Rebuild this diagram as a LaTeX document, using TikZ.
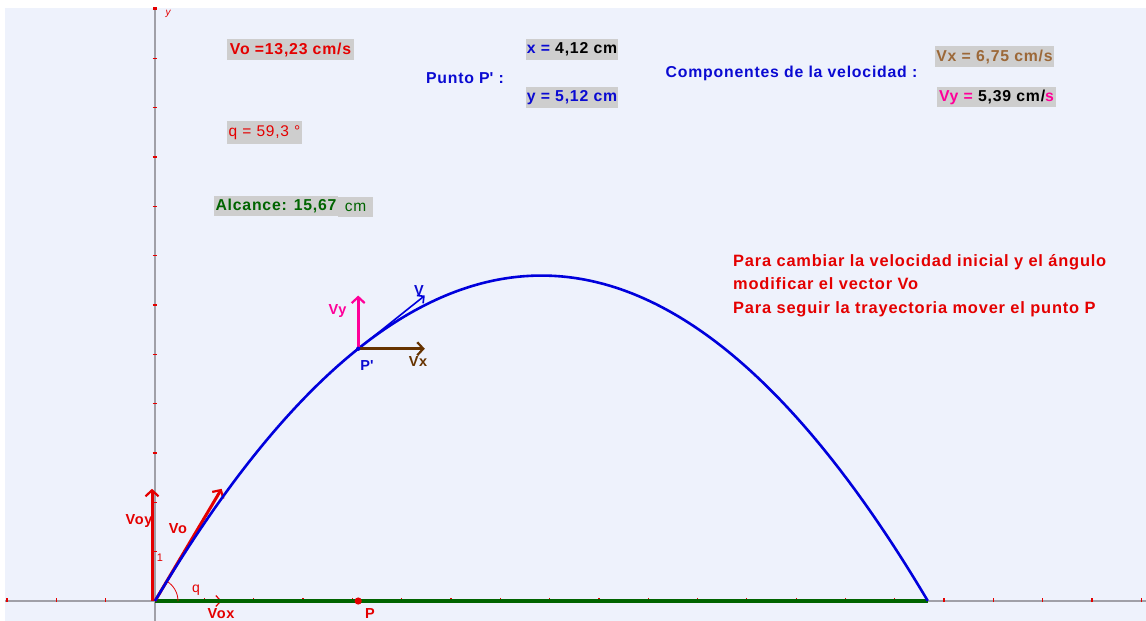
\documentclass[tikz,border=0pt]{standalone}
\usepackage{fontspec}
\setmainfont{Liberation Sans}[LetterSpace=5]
\usetikzlibrary{arrows.meta,calc}
\definecolor{bgc}{RGB}{238,242,252}
\definecolor{boxc}{RGB}{206,206,206}
\definecolor{rd}{RGB}{228,0,0}
\definecolor{bl}{RGB}{10,10,210}
\definecolor{trc}{RGB}{0,0,220}
\definecolor{gr}{RGB}{0,100,0}
\definecolor{brl}{RGB}{156,104,56}
\definecolor{brd}{RGB}{102,51,0}
\definecolor{pk}{RGB}{255,0,153}
\definecolor{axc}{RGB}{160,160,168}
\tikzset{
  tbox/.style={fill=boxc, inner sep=0pt, font=\fontsize{15.8}{18}\selectfont\bfseries},
  lbl/.style={inner sep=0pt, font=\fontsize{15.8}{18}\selectfont\bfseries},
  glbl/.style={inner sep=0pt, font=\fontsize{14.5}{17}\selectfont\bfseries},
  slbl/.style={inner sep=0pt, font=\fontsize{14}{16}\selectfont},
  vec/.style={line width=3pt, -{Straight Barb[length=6pt,width=13pt,line width=2.2pt]}},
  thinvec/.style={line width=1.6pt, -{Straight Barb[length=5pt,width=10pt,line width=1.6pt]}},
  axisline/.style={axc, line width=1.6pt},
  tickmark/.style={rd, line width=1.3pt},
  traj/.style={trc, line width=2.6pt},
}
\begin{document}
\begin{tikzpicture}[x=1pt,y=-1pt]
\useasboundingbox (0,0) rectangle (1146,621);
\fill[white] (0,0) rectangle (1146,621);
\fill[bgc] (5,8) rectangle (1146,621);
% axes
\coordinate (XL) at (5,601);
\coordinate (XR) at (1146,601);
\coordinate (YT) at (155,8);
\coordinate (YB) at (155,621);
\draw[axisline] (XL) -- (XR);
\draw[axisline] (YT) -- (YB);
\node[text=rd, inner sep=0pt, font=\fontsize{10}{12}\selectfont\itshape] (ylab) at (168,14) {y};
\begin{scope}[shift={(155,601)}, x=49.32pt, y=49.32pt]
  \foreach \k in {-3,...,-1,1,2,...,20} {\draw[tickmark] (\k,0) ++(0,-1pt) -- ++(0,4.5pt);}
  \foreach \k in {1,...,12} {\draw[tickmark] (0,\k) ++(-2.4pt,0) -- ++(4.8pt,0);}
  \coordinate (O) at (0,0);
  \coordinate (R) at (15.67,0);
  \coordinate (VoE) at ({0.2*13.23*cos(59.3)},{0.2*13.23*sin(59.3)});
  \coordinate (VoxE) at ({0.2*13.23*cos(59.3)},0);
  \coordinate (VoyS) at ([xshift=-3pt]O);
  \coordinate (VoyE) at ([xshift=-3pt]0,{0.2*13.23*sin(59.3)});
  \coordinate (Pp) at (4.12,{4.12*tan(59.3)*(1-4.12/15.67)});
  \coordinate (Pd) at (4.12,0);
  \coordinate (VxE) at ($(Pp)+(1.35,0)$);
  \coordinate (VyE) at ($(Pp)+(0,1.078)$);
  \coordinate (VE) at ($(Pp)+(1.35,1.078)$);
  % Vox under green line
  \draw[rd, line width=1.2pt, -{Straight Barb[length=5pt,width=11pt,line width=1.2pt]}] (O) -- (VoxE);
  \draw[gr, line width=3.4pt] (O) -- (R);
  \draw[rd, vec] (VoyS) -- (VoyE);
  \draw[rd, vec] (O) -- (VoE);
  \draw[rd, line width=0.8pt] ([shift={(0:23pt)}]O) arc[start angle=0, end angle=59.3, radius=23pt];
  \draw[traj] plot[domain=0:15.67, samples=160, smooth] (\x,{\x*tan(59.3)*(1-\x/15.67)});
  \draw[trc, thinvec] (Pp) -- (VE);
  \draw[brd, vec] (Pp) -- (VxE);
  \draw[pk, vec] (Pp) -- (VyE);
  \fill[trc] (Pp) circle[radius=2.2pt];
  \fill[rd] (Pd) circle[radius=3.6pt];
\end{scope}
% graph labels
\node[glbl, text=pk] (lvy) at (337.5,311) {Vy};
\node[glbl, text=bl] (lpp) at (367,366) {P\textquotesingle};
\node[glbl, text=brd] (lvx) at (418,361.5) {Vx};
\node[glbl, text=bl] (lv) at (419,291) {V};
\node[glbl, text=rd] (lvoy) at (139,521) {Voy};
\node[glbl, text=rd] (lvo) at (178,529) {Vo};
\node[inner sep=0pt, text=rd, font=\fontsize{11}{13}\selectfont] (lone) at (160,558) {1};
\node[slbl, text=rd] (lq) at (196,590) {q};
\node[glbl, text=rd, anchor=north] (lvox) at (221,608.5) {Vox};
\node[glbl, text=rd, anchor=north] (lp) at (370,608.5) {P};
% boxes
\node[tbox, minimum width=127pt, minimum height=21pt, text=rd] (bvo) at (290.5,49.5) {Vo =13,23 cm/s};
\node[tbox, minimum width=75pt, minimum height=23pt, text=rd, font=\fontsize{15.5}{18}\selectfont] (bq) at (264.5,132.5) {\raisebox{-3pt}{q = 59,3 °}};
\node[tbox, minimum width=124pt, minimum height=20pt, text=gr] (bal) at (276,205.5) {Alcance: 15,67};
\node[tbox, minimum width=35pt, minimum height=20pt, text=gr, font=\fontsize{15.5}{18}\selectfont] (bcm) at (355.5,207) {cm};
\node[tbox, minimum width=92pt, minimum height=21pt] (bx) at (572,49.5) {\textcolor{bl}{x =} \textcolor{black}{4,12 cm}};
\node[lbl, text=bl] (punto) at (465,78) {Punto P\textquotesingle\ :};
\node[tbox, minimum width=92pt, minimum height=21pt, text=bl] (by) at (572,97.5) {y = 5,12 cm};
\node[lbl, text=bl] (comp) at (791.5,73) {Componentes de la velocidad :};
\node[tbox, minimum width=119pt, minimum height=21pt, text=brl] (bvx) at (994.5,56.5) {Vx = 6,75 cm/s};
\node[tbox, minimum width=119pt, minimum height=20pt] (bvy) at (996.5,97) {\textcolor{pk}{Vy =} \textcolor{black}{5,39 cm/}\textcolor{pk}{s}};
\node[lbl, text=rd, anchor=west, align=left, font=\fontsize{16.4}{23.5}\selectfont\bfseries] (instr) at (733,285.5) {Para cambiar la velocidad inicial y el ángulo\\modificar el vector Vo\\Para seguir la trayectoria mover el punto P};
\draw[tickmark] (153,8) -- (157,8);
\end{tikzpicture}
\end{document}
